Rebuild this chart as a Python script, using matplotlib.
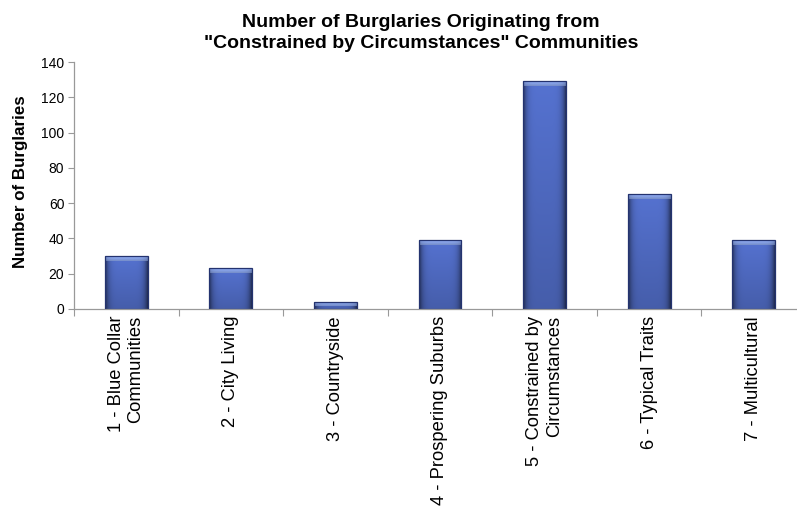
import numpy as np
import matplotlib
matplotlib.use("Agg")
import matplotlib.pyplot as plt

categories = ["1 - Blue Collar\nCommunities", "2 - City Living", "3 - Countryside",
              "4 - Prospering Suburbs", "5 - Constrained by\nCircumstances",
              "6 - Typical Traits", "7 - Multicultural"]
values = [30, 23, 4, 39, 129, 65, 39]
yticks = [0, 20, 40, 60, 80, 100, 120, 140]
title = 'Number of Burglaries Originating from\n"Constrained by Circumstances" Communities'
ylabel = "Number of Burglaries"

plt.rcParams['font.family'] = ['Liberation Sans', 'DejaVu Sans']

W, H = 797, 520
fig = plt.figure(figsize=(W / 100, H / 100), dpi=100)
ax = fig.add_axes([74 / W, (H - 309) / H, (806 - 74) / W, (309 - 62) / H])

x = np.arange(len(values))
bw = 0.41
bars = ax.bar(x, values, width=bw, color='none', edgecolor='#24336f', linewidth=0.9, zorder=3)

# gradient fill: darker at sides, slightly darker toward bottom
nx, ny = 64, 64
u = np.linspace(0, 1, nx)
v = np.linspace(0, 1, ny)
side = 1 - 0.55 * (np.abs(u - 0.5) * 2) ** 6
vert = 0.82 + 0.18 * v
c_mid = np.array([0x55, 0x72, 0xd0]) / 255.0
img = c_mid[None, None, :] * (side[None, :, None] * vert[:, None, None])
img = np.clip(img, 0, 1)

cap_px = 4.5
px_per_unit = (309 - 62) / 140
cap = cap_px / px_per_unit
capimg = np.zeros((8, nx, 3))
cap_col = np.array([0x8c, 0xa8, 0xef]) / 255.0
cv = np.linspace(0.85, 1.05, 8)
capimg[:] = cap_col[None, None, :] * (side[None, :, None] * 0.35 + 0.65) * cv[:, None, None]
capimg = np.clip(capimg, 0, 1)

for b in bars:
    x0, y0 = b.get_xy()
    w, h = b.get_width(), b.get_height()
    im = ax.imshow(img, extent=[x0, x0 + w, y0, y0 + h], aspect='auto', origin='lower',
                   zorder=2, interpolation='bilinear')
    im.set_clip_path(b)
    ch = min(cap, h)
    im2 = ax.imshow(capimg, extent=[x0, x0 + w, y0 + h - ch, y0 + h], aspect='auto',
                    origin='lower', zorder=2.5, interpolation='bilinear')
    im2.set_clip_path(b)

ax.set_xlim(-0.5, len(values) - 0.5)
ax.set_ylim(0, 140)
ax.set_yticks(yticks)
ax.set_xticks(x)
ax.set_xticklabels(categories, rotation=90, ha='center', va='top', multialignment='right',
                   fontsize=13.2)
ax.set_xticks(np.arange(len(values) + 1) - 0.5, minor=True)
ax.tick_params(axis='x', which='major', length=0, pad=5)
ax.tick_params(axis='x', which='minor', length=5, color='#999999', width=0.8, direction='out')
ax.tick_params(axis='y', length=4, color='#999999', width=0.8, labelsize=10, pad=3)

for s in ['top', 'right']:
    ax.spines[s].set_visible(False)
for s in ['left', 'bottom']:
    ax.spines[s].set_color('#999999')
    ax.spines[s].set_linewidth(0.9)

fig.text(21 / W, 1 - 182 / H, ylabel, rotation=90, ha='center', va='center',
         fontsize=12.2, fontweight='bold')
fig.text(421 / W, 1 - 14 / H, title, ha='center', va='top', multialignment='center',
         fontsize=14, fontweight='bold', linespacing=1.3)

fig.savefig("out.png", dpi=100)
